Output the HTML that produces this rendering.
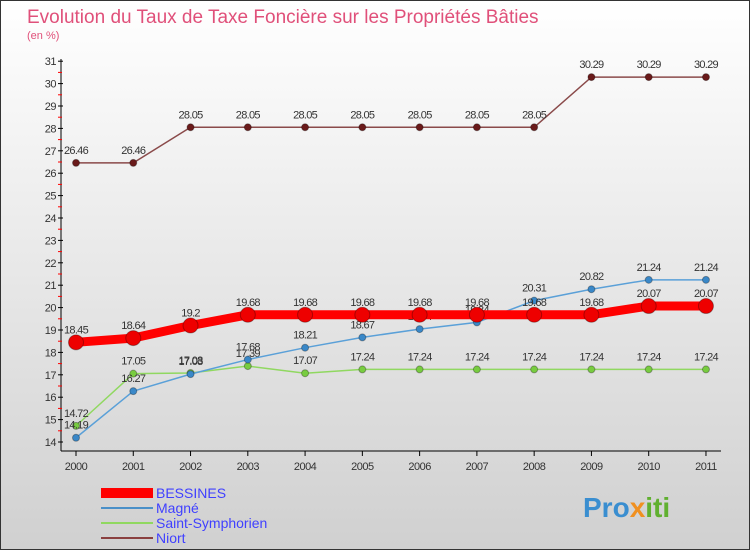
<!DOCTYPE html>
<html><head><meta charset="utf-8"><style>
body{margin:0;width:750px;height:550px;overflow:hidden;font-family:"Liberation Sans",sans-serif}
#wrap{position:relative;width:748px;height:548px;border:1px solid #333;background:linear-gradient(#ffffff,#d0d0d0)}
</style></head><body>
<div id="wrap">
<svg id="chart" width="748" height="548" xmlns="http://www.w3.org/2000/svg">
<text x="26" y="22" font-size="19" fill="#e0507a">Evolution du Taux de Taxe Foncière sur les Propriétés Bâties</text>
<text x="26" y="38" font-size="11" fill="#e0507a">(en %)</text>
<g id="axes"></g><g id="series"></g>
<g>
<rect x="100" y="487" width="52" height="10" fill="#ff0000"/><text x="155" y="497" font-size="14" fill="#4040ff">BESSINES</text>
<line x1="100" y1="507" x2="152" y2="507" stroke="#4a90c8" stroke-width="2"/><text x="155" y="512" font-size="14" fill="#4040ff">Magné</text>
<line x1="100" y1="522" x2="152" y2="522" stroke="#90d860" stroke-width="2"/><text x="155" y="527" font-size="14" fill="#4040ff">Saint-Symphorien</text>
<line x1="100" y1="537" x2="152" y2="537" stroke="#8a4040" stroke-width="2"/><text x="155" y="542" font-size="14" fill="#4040ff">Niort</text>
</g>
<text x="582" y="516" font-size="28" font-weight="bold" fill="#3a8ed0">Pro<tspan fill="#f09020">x</tspan><tspan fill="#60b030">iti</tspan></text>
</svg></div>
<script>
const years=["2000","2001","2002","2003","2004","2005","2006","2007","2008","2009","2010","2011"];
const bessines=[18.45,18.64,19.2,19.68,19.68,19.68,19.68,19.68,19.68,19.68,20.07,20.07];
const magne=[14.19,16.27,17.03,17.68,18.21,18.67,19.04,19.34,20.31,20.82,21.24,21.24];
const saintSymphorien=[14.72,17.05,17.08,17.39,17.07,17.24,17.24,17.24,17.24,17.24,17.24,17.24];
const niort=[26.46,26.46,28.05,28.05,28.05,28.05,28.05,28.05,28.05,30.29,30.29,30.29];
const yTicks=[14,15,16,17,18,19,20,21,22,23,24,25,26,27,28,29,30,31];
const NS="http://www.w3.org/2000/svg";
const X=i=>75+i*57.27, Y=v=>441-(v-14)*22.4;
function mk(t,a,p){const e=document.createElementNS(NS,t);for(const k in a)e.setAttribute(k,a[k]);p.appendChild(e);return e;}
const ax=document.getElementById('axes');
let l=mk('line',{x1:60,y1:58,x2:60,y2:450,stroke:'#000'},ax);

l=mk('line',{x1:60,y1:450,x2:720,y2:450,stroke:'#000'},ax);

yTicks.forEach(v=>{mk('line',{x1:57,y1:Y(v),x2:62,y2:Y(v),stroke:'#000'},ax);
 if(v<31)mk('line',{x1:57,y1:Y(v+0.5),x2:61,y2:Y(v+0.5),stroke:'#f00'},ax);
 const t=mk('text',{x:55,y:Y(v)+4,'font-size':11,'text-anchor':'end',fill:'#333','letter-spacing':'-0.5'},ax);t.textContent=v;
 });
years.forEach((y,i)=>{mk('line',{x1:X(i),y1:450,x2:X(i),y2:455,stroke:'#000'},ax);
 const t=mk('text',{x:X(i),y:469,'font-size':11,'text-anchor':'middle',fill:'#333','letter-spacing':'-0.5'},ax);t.textContent=y;
 });
const sg=document.getElementById('series');
function draw(vals,name,col,dot,w,r){
 const g=mk('g',{},sg);
 mk('polyline',{points:vals.map((v,i)=>X(i)+','+Y(v)).join(' '),fill:'none',stroke:col,'stroke-width':w},g);
 vals.forEach((v,i)=>{const c=mk('circle',{cx:X(i),cy:Y(v),r:r,fill:dot,stroke:'rgba(0,0,0,0.3)'},g);
  
  const t=mk('text',{x:X(i),y:Y(v)-9,'font-size':11,'text-anchor':'middle',fill:'#333','letter-spacing':'-0.7'},g);t.textContent=v;
  });
}
draw(niort,'niort','#8a4a4a','#6a1a1a',1.5,3.5);
draw(saintSymphorien,'saint-symphorien','#90d860','#78cc40',1.5,3.5);
draw(magne,'magne','#5aa0d8','#3a88c8',1.5,3.5);
draw(bessines,'bessines','#ff0000','#ee0000',9,7.5);
</script></body></html>
